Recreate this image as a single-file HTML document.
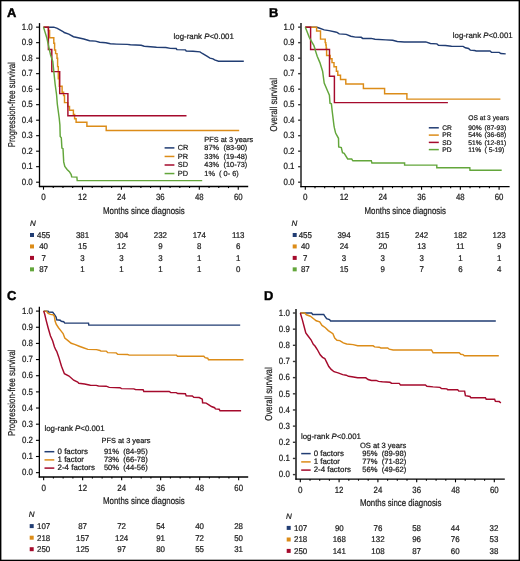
<!DOCTYPE html><html><head><meta charset="utf-8"><title>KM curves</title><style>html,body{margin:0;padding:0;background:#fff;}svg{display:block;}text{font-family:"Liberation Sans", sans-serif;fill:#1a1a1a;stroke:#1a1a1a;stroke-width:0.22px;}</style></head><body>
<svg width="520" height="561" viewBox="0 0 520 561" style="text-rendering:geometricPrecision;will-change:transform">
<rect x="0" y="0" width="520" height="561" fill="#fff"/>
<text x="6.9" y="16.5" font-size="12.9" font-weight="bold" fill="#000" style="fill:#000;stroke:#000;stroke-width:0.45px">A</text>
<text x="269.1" y="16.5" font-size="12.9" font-weight="bold" fill="#000" style="fill:#000;stroke:#000;stroke-width:0.45px">B</text>
<text x="6.9" y="300.3" font-size="12.9" font-weight="bold" fill="#000" style="fill:#000;stroke:#000;stroke-width:0.45px">C</text>
<text x="264.1" y="300.3" font-size="12.9" font-weight="bold" fill="#000" style="fill:#000;stroke:#000;stroke-width:0.45px">D</text>
<line x1="39.5" y1="23.1" x2="39.5" y2="187.1" stroke="#000" stroke-width="1.3"/>
<line x1="38.9" y1="186.5" x2="248.2" y2="186.5" stroke="#000" stroke-width="1.3"/>
<line x1="36.1" y1="182.20" x2="39.5" y2="182.20" stroke="#000" stroke-width="1.1"/>
<text x="32.75" y="184.95" font-size="9.0" text-anchor="end" textLength="11.0" lengthAdjust="spacingAndGlyphs">0.0</text>
<line x1="36.1" y1="166.69" x2="39.5" y2="166.69" stroke="#000" stroke-width="1.1"/>
<text x="32.75" y="169.44" font-size="9.0" text-anchor="end" textLength="11.0" lengthAdjust="spacingAndGlyphs">0.1</text>
<line x1="36.1" y1="151.19" x2="39.5" y2="151.19" stroke="#000" stroke-width="1.1"/>
<text x="32.75" y="153.94" font-size="9.0" text-anchor="end" textLength="11.0" lengthAdjust="spacingAndGlyphs">0.2</text>
<line x1="36.1" y1="135.69" x2="39.5" y2="135.69" stroke="#000" stroke-width="1.1"/>
<text x="32.75" y="138.44" font-size="9.0" text-anchor="end" textLength="11.0" lengthAdjust="spacingAndGlyphs">0.3</text>
<line x1="36.1" y1="120.18" x2="39.5" y2="120.18" stroke="#000" stroke-width="1.1"/>
<text x="32.75" y="122.93" font-size="9.0" text-anchor="end" textLength="11.0" lengthAdjust="spacingAndGlyphs">0.4</text>
<line x1="36.1" y1="104.67" x2="39.5" y2="104.67" stroke="#000" stroke-width="1.1"/>
<text x="32.75" y="107.42" font-size="9.0" text-anchor="end" textLength="11.0" lengthAdjust="spacingAndGlyphs">0.5</text>
<line x1="36.1" y1="89.17" x2="39.5" y2="89.17" stroke="#000" stroke-width="1.1"/>
<text x="32.75" y="91.92" font-size="9.0" text-anchor="end" textLength="11.0" lengthAdjust="spacingAndGlyphs">0.6</text>
<line x1="36.1" y1="73.66" x2="39.5" y2="73.66" stroke="#000" stroke-width="1.1"/>
<text x="32.75" y="76.41" font-size="9.0" text-anchor="end" textLength="11.0" lengthAdjust="spacingAndGlyphs">0.7</text>
<line x1="36.1" y1="58.16" x2="39.5" y2="58.16" stroke="#000" stroke-width="1.1"/>
<text x="32.75" y="60.91" font-size="9.0" text-anchor="end" textLength="11.0" lengthAdjust="spacingAndGlyphs">0.8</text>
<line x1="36.1" y1="42.66" x2="39.5" y2="42.66" stroke="#000" stroke-width="1.1"/>
<text x="32.75" y="45.41" font-size="9.0" text-anchor="end" textLength="11.0" lengthAdjust="spacingAndGlyphs">0.9</text>
<line x1="36.1" y1="27.15" x2="39.5" y2="27.15" stroke="#000" stroke-width="1.1"/>
<text x="32.75" y="29.90" font-size="9.0" text-anchor="end" textLength="11.0" lengthAdjust="spacingAndGlyphs">1.0</text>
<line x1="43.50" y1="186.5" x2="43.50" y2="189.7" stroke="#000" stroke-width="1.1"/>
<line x1="53.24" y1="186.5" x2="53.24" y2="188.1" stroke="#000" stroke-width="1.1"/>
<line x1="62.97" y1="186.5" x2="62.97" y2="188.1" stroke="#000" stroke-width="1.1"/>
<line x1="72.71" y1="186.5" x2="72.71" y2="188.1" stroke="#000" stroke-width="1.1"/>
<line x1="82.45" y1="186.5" x2="82.45" y2="189.7" stroke="#000" stroke-width="1.1"/>
<line x1="92.19" y1="186.5" x2="92.19" y2="188.1" stroke="#000" stroke-width="1.1"/>
<line x1="101.92" y1="186.5" x2="101.92" y2="188.1" stroke="#000" stroke-width="1.1"/>
<line x1="111.66" y1="186.5" x2="111.66" y2="188.1" stroke="#000" stroke-width="1.1"/>
<line x1="121.40" y1="186.5" x2="121.40" y2="189.7" stroke="#000" stroke-width="1.1"/>
<line x1="131.14" y1="186.5" x2="131.14" y2="188.1" stroke="#000" stroke-width="1.1"/>
<line x1="140.88" y1="186.5" x2="140.88" y2="188.1" stroke="#000" stroke-width="1.1"/>
<line x1="150.61" y1="186.5" x2="150.61" y2="188.1" stroke="#000" stroke-width="1.1"/>
<line x1="160.35" y1="186.5" x2="160.35" y2="189.7" stroke="#000" stroke-width="1.1"/>
<line x1="170.09" y1="186.5" x2="170.09" y2="188.1" stroke="#000" stroke-width="1.1"/>
<line x1="179.82" y1="186.5" x2="179.82" y2="188.1" stroke="#000" stroke-width="1.1"/>
<line x1="189.56" y1="186.5" x2="189.56" y2="188.1" stroke="#000" stroke-width="1.1"/>
<line x1="199.30" y1="186.5" x2="199.30" y2="189.7" stroke="#000" stroke-width="1.1"/>
<line x1="209.04" y1="186.5" x2="209.04" y2="188.1" stroke="#000" stroke-width="1.1"/>
<line x1="218.77" y1="186.5" x2="218.77" y2="188.1" stroke="#000" stroke-width="1.1"/>
<line x1="228.51" y1="186.5" x2="228.51" y2="188.1" stroke="#000" stroke-width="1.1"/>
<line x1="238.25" y1="186.5" x2="238.25" y2="189.7" stroke="#000" stroke-width="1.1"/>
<text x="43.50" y="199.9" font-size="9.0" text-anchor="middle" textLength="4.5" lengthAdjust="spacingAndGlyphs">0</text>
<text x="82.45" y="199.9" font-size="9.0" text-anchor="middle" textLength="8.7" lengthAdjust="spacingAndGlyphs">12</text>
<text x="121.40" y="199.9" font-size="9.0" text-anchor="middle" textLength="8.7" lengthAdjust="spacingAndGlyphs">24</text>
<text x="160.35" y="199.9" font-size="9.0" text-anchor="middle" textLength="8.7" lengthAdjust="spacingAndGlyphs">36</text>
<text x="199.30" y="199.9" font-size="9.0" text-anchor="middle" textLength="8.7" lengthAdjust="spacingAndGlyphs">48</text>
<text x="238.25" y="199.9" font-size="9.0" text-anchor="middle" textLength="8.7" lengthAdjust="spacingAndGlyphs">60</text>
<line x1="301.0" y1="23.1" x2="301.0" y2="187.2" stroke="#3a3a3a" stroke-width="1.7"/>
<line x1="300.4" y1="186.6" x2="509.6" y2="186.6" stroke="#000" stroke-width="1.3"/>
<line x1="298.1" y1="182.20" x2="301.0" y2="182.20" stroke="#3a3a3a" stroke-width="1.4"/>
<text x="294.5" y="184.95" font-size="9.0" text-anchor="end" textLength="11.0" lengthAdjust="spacingAndGlyphs">0.0</text>
<line x1="298.1" y1="166.69" x2="301.0" y2="166.69" stroke="#3a3a3a" stroke-width="1.4"/>
<text x="294.5" y="169.44" font-size="9.0" text-anchor="end" textLength="11.0" lengthAdjust="spacingAndGlyphs">0.1</text>
<line x1="298.1" y1="151.19" x2="301.0" y2="151.19" stroke="#3a3a3a" stroke-width="1.4"/>
<text x="294.5" y="153.94" font-size="9.0" text-anchor="end" textLength="11.0" lengthAdjust="spacingAndGlyphs">0.2</text>
<line x1="298.1" y1="135.69" x2="301.0" y2="135.69" stroke="#3a3a3a" stroke-width="1.4"/>
<text x="294.5" y="138.44" font-size="9.0" text-anchor="end" textLength="11.0" lengthAdjust="spacingAndGlyphs">0.3</text>
<line x1="298.1" y1="120.18" x2="301.0" y2="120.18" stroke="#3a3a3a" stroke-width="1.4"/>
<text x="294.5" y="122.93" font-size="9.0" text-anchor="end" textLength="11.0" lengthAdjust="spacingAndGlyphs">0.4</text>
<line x1="298.1" y1="104.67" x2="301.0" y2="104.67" stroke="#3a3a3a" stroke-width="1.4"/>
<text x="294.5" y="107.42" font-size="9.0" text-anchor="end" textLength="11.0" lengthAdjust="spacingAndGlyphs">0.5</text>
<line x1="298.1" y1="89.17" x2="301.0" y2="89.17" stroke="#3a3a3a" stroke-width="1.4"/>
<text x="294.5" y="91.92" font-size="9.0" text-anchor="end" textLength="11.0" lengthAdjust="spacingAndGlyphs">0.6</text>
<line x1="298.1" y1="73.66" x2="301.0" y2="73.66" stroke="#3a3a3a" stroke-width="1.4"/>
<text x="294.5" y="76.41" font-size="9.0" text-anchor="end" textLength="11.0" lengthAdjust="spacingAndGlyphs">0.7</text>
<line x1="298.1" y1="58.16" x2="301.0" y2="58.16" stroke="#3a3a3a" stroke-width="1.4"/>
<text x="294.5" y="60.91" font-size="9.0" text-anchor="end" textLength="11.0" lengthAdjust="spacingAndGlyphs">0.8</text>
<line x1="298.1" y1="42.66" x2="301.0" y2="42.66" stroke="#3a3a3a" stroke-width="1.4"/>
<text x="294.5" y="45.41" font-size="9.0" text-anchor="end" textLength="11.0" lengthAdjust="spacingAndGlyphs">0.9</text>
<line x1="298.1" y1="27.15" x2="301.0" y2="27.15" stroke="#3a3a3a" stroke-width="1.4"/>
<text x="294.5" y="29.90" font-size="9.0" text-anchor="end" textLength="11.0" lengthAdjust="spacingAndGlyphs">1.0</text>
<line x1="305.30" y1="186.6" x2="305.30" y2="189.79999999999998" stroke="#000" stroke-width="1.1"/>
<line x1="314.99" y1="186.6" x2="314.99" y2="188.2" stroke="#000" stroke-width="1.1"/>
<line x1="324.68" y1="186.6" x2="324.68" y2="188.2" stroke="#000" stroke-width="1.1"/>
<line x1="334.37" y1="186.6" x2="334.37" y2="188.2" stroke="#000" stroke-width="1.1"/>
<line x1="344.06" y1="186.6" x2="344.06" y2="189.79999999999998" stroke="#000" stroke-width="1.1"/>
<line x1="353.75" y1="186.6" x2="353.75" y2="188.2" stroke="#000" stroke-width="1.1"/>
<line x1="363.44" y1="186.6" x2="363.44" y2="188.2" stroke="#000" stroke-width="1.1"/>
<line x1="373.13" y1="186.6" x2="373.13" y2="188.2" stroke="#000" stroke-width="1.1"/>
<line x1="382.82" y1="186.6" x2="382.82" y2="189.79999999999998" stroke="#000" stroke-width="1.1"/>
<line x1="392.51" y1="186.6" x2="392.51" y2="188.2" stroke="#000" stroke-width="1.1"/>
<line x1="402.20" y1="186.6" x2="402.20" y2="188.2" stroke="#000" stroke-width="1.1"/>
<line x1="411.89" y1="186.6" x2="411.89" y2="188.2" stroke="#000" stroke-width="1.1"/>
<line x1="421.58" y1="186.6" x2="421.58" y2="189.79999999999998" stroke="#000" stroke-width="1.1"/>
<line x1="431.27" y1="186.6" x2="431.27" y2="188.2" stroke="#000" stroke-width="1.1"/>
<line x1="440.96" y1="186.6" x2="440.96" y2="188.2" stroke="#000" stroke-width="1.1"/>
<line x1="450.65" y1="186.6" x2="450.65" y2="188.2" stroke="#000" stroke-width="1.1"/>
<line x1="460.34" y1="186.6" x2="460.34" y2="189.79999999999998" stroke="#000" stroke-width="1.1"/>
<line x1="470.03" y1="186.6" x2="470.03" y2="188.2" stroke="#000" stroke-width="1.1"/>
<line x1="479.72" y1="186.6" x2="479.72" y2="188.2" stroke="#000" stroke-width="1.1"/>
<line x1="489.41" y1="186.6" x2="489.41" y2="188.2" stroke="#000" stroke-width="1.1"/>
<line x1="499.10" y1="186.6" x2="499.10" y2="189.79999999999998" stroke="#000" stroke-width="1.1"/>
<text x="305.30" y="199.8" font-size="9.0" text-anchor="middle" textLength="4.5" lengthAdjust="spacingAndGlyphs">0</text>
<text x="344.06" y="199.8" font-size="9.0" text-anchor="middle" textLength="8.7" lengthAdjust="spacingAndGlyphs">12</text>
<text x="382.82" y="199.8" font-size="9.0" text-anchor="middle" textLength="8.7" lengthAdjust="spacingAndGlyphs">24</text>
<text x="421.58" y="199.8" font-size="9.0" text-anchor="middle" textLength="8.7" lengthAdjust="spacingAndGlyphs">36</text>
<text x="460.34" y="199.8" font-size="9.0" text-anchor="middle" textLength="8.7" lengthAdjust="spacingAndGlyphs">48</text>
<text x="499.10" y="199.8" font-size="9.0" text-anchor="middle" textLength="8.7" lengthAdjust="spacingAndGlyphs">60</text>
<line x1="39.35" y1="306.7" x2="39.35" y2="477.6" stroke="#000" stroke-width="1.3"/>
<line x1="38.75" y1="477.0" x2="248.2" y2="477.0" stroke="#000" stroke-width="1.3"/>
<line x1="35.95" y1="472.65" x2="39.35" y2="472.65" stroke="#000" stroke-width="1.1"/>
<text x="33.0" y="475.40" font-size="9.0" text-anchor="end" textLength="11.0" lengthAdjust="spacingAndGlyphs">0.0</text>
<line x1="35.95" y1="456.50" x2="39.35" y2="456.50" stroke="#000" stroke-width="1.1"/>
<text x="33.0" y="459.25" font-size="9.0" text-anchor="end" textLength="11.0" lengthAdjust="spacingAndGlyphs">0.1</text>
<line x1="35.95" y1="440.34" x2="39.35" y2="440.34" stroke="#000" stroke-width="1.1"/>
<text x="33.0" y="443.09" font-size="9.0" text-anchor="end" textLength="11.0" lengthAdjust="spacingAndGlyphs">0.2</text>
<line x1="35.95" y1="424.19" x2="39.35" y2="424.19" stroke="#000" stroke-width="1.1"/>
<text x="33.0" y="426.94" font-size="9.0" text-anchor="end" textLength="11.0" lengthAdjust="spacingAndGlyphs">0.3</text>
<line x1="35.95" y1="408.03" x2="39.35" y2="408.03" stroke="#000" stroke-width="1.1"/>
<text x="33.0" y="410.78" font-size="9.0" text-anchor="end" textLength="11.0" lengthAdjust="spacingAndGlyphs">0.4</text>
<line x1="35.95" y1="391.88" x2="39.35" y2="391.88" stroke="#000" stroke-width="1.1"/>
<text x="33.0" y="394.62" font-size="9.0" text-anchor="end" textLength="11.0" lengthAdjust="spacingAndGlyphs">0.5</text>
<line x1="35.95" y1="375.72" x2="39.35" y2="375.72" stroke="#000" stroke-width="1.1"/>
<text x="33.0" y="378.47" font-size="9.0" text-anchor="end" textLength="11.0" lengthAdjust="spacingAndGlyphs">0.6</text>
<line x1="35.95" y1="359.56" x2="39.35" y2="359.56" stroke="#000" stroke-width="1.1"/>
<text x="33.0" y="362.31" font-size="9.0" text-anchor="end" textLength="11.0" lengthAdjust="spacingAndGlyphs">0.7</text>
<line x1="35.95" y1="343.41" x2="39.35" y2="343.41" stroke="#000" stroke-width="1.1"/>
<text x="33.0" y="346.16" font-size="9.0" text-anchor="end" textLength="11.0" lengthAdjust="spacingAndGlyphs">0.8</text>
<line x1="35.95" y1="327.25" x2="39.35" y2="327.25" stroke="#000" stroke-width="1.1"/>
<text x="33.0" y="330.00" font-size="9.0" text-anchor="end" textLength="11.0" lengthAdjust="spacingAndGlyphs">0.9</text>
<line x1="35.95" y1="311.10" x2="39.35" y2="311.10" stroke="#000" stroke-width="1.1"/>
<text x="33.0" y="313.85" font-size="9.0" text-anchor="end" textLength="11.0" lengthAdjust="spacingAndGlyphs">1.0</text>
<line x1="43.65" y1="477.0" x2="43.65" y2="480.2" stroke="#000" stroke-width="1.1"/>
<line x1="53.40" y1="477.0" x2="53.40" y2="478.6" stroke="#000" stroke-width="1.1"/>
<line x1="63.15" y1="477.0" x2="63.15" y2="478.6" stroke="#000" stroke-width="1.1"/>
<line x1="72.90" y1="477.0" x2="72.90" y2="478.6" stroke="#000" stroke-width="1.1"/>
<line x1="82.65" y1="477.0" x2="82.65" y2="480.2" stroke="#000" stroke-width="1.1"/>
<line x1="92.40" y1="477.0" x2="92.40" y2="478.6" stroke="#000" stroke-width="1.1"/>
<line x1="102.15" y1="477.0" x2="102.15" y2="478.6" stroke="#000" stroke-width="1.1"/>
<line x1="111.90" y1="477.0" x2="111.90" y2="478.6" stroke="#000" stroke-width="1.1"/>
<line x1="121.65" y1="477.0" x2="121.65" y2="480.2" stroke="#000" stroke-width="1.1"/>
<line x1="131.40" y1="477.0" x2="131.40" y2="478.6" stroke="#000" stroke-width="1.1"/>
<line x1="141.15" y1="477.0" x2="141.15" y2="478.6" stroke="#000" stroke-width="1.1"/>
<line x1="150.90" y1="477.0" x2="150.90" y2="478.6" stroke="#000" stroke-width="1.1"/>
<line x1="160.65" y1="477.0" x2="160.65" y2="480.2" stroke="#000" stroke-width="1.1"/>
<line x1="170.40" y1="477.0" x2="170.40" y2="478.6" stroke="#000" stroke-width="1.1"/>
<line x1="180.15" y1="477.0" x2="180.15" y2="478.6" stroke="#000" stroke-width="1.1"/>
<line x1="189.90" y1="477.0" x2="189.90" y2="478.6" stroke="#000" stroke-width="1.1"/>
<line x1="199.65" y1="477.0" x2="199.65" y2="480.2" stroke="#000" stroke-width="1.1"/>
<line x1="209.40" y1="477.0" x2="209.40" y2="478.6" stroke="#000" stroke-width="1.1"/>
<line x1="219.15" y1="477.0" x2="219.15" y2="478.6" stroke="#000" stroke-width="1.1"/>
<line x1="228.90" y1="477.0" x2="228.90" y2="478.6" stroke="#000" stroke-width="1.1"/>
<line x1="238.65" y1="477.0" x2="238.65" y2="480.2" stroke="#000" stroke-width="1.1"/>
<text x="43.65" y="490.7" font-size="9.0" text-anchor="middle" textLength="4.5" lengthAdjust="spacingAndGlyphs">0</text>
<text x="82.65" y="490.7" font-size="9.0" text-anchor="middle" textLength="8.7" lengthAdjust="spacingAndGlyphs">12</text>
<text x="121.65" y="490.7" font-size="9.0" text-anchor="middle" textLength="8.7" lengthAdjust="spacingAndGlyphs">24</text>
<text x="160.65" y="490.7" font-size="9.0" text-anchor="middle" textLength="8.7" lengthAdjust="spacingAndGlyphs">36</text>
<text x="199.65" y="490.7" font-size="9.0" text-anchor="middle" textLength="8.7" lengthAdjust="spacingAndGlyphs">48</text>
<text x="238.65" y="490.7" font-size="9.0" text-anchor="middle" textLength="8.7" lengthAdjust="spacingAndGlyphs">60</text>
<line x1="296.0" y1="309.0" x2="296.0" y2="479.70000000000005" stroke="#3a3a3a" stroke-width="1.8"/>
<line x1="295.4" y1="479.1" x2="504.8" y2="479.1" stroke="#000" stroke-width="1.3"/>
<line x1="292.9" y1="474.60" x2="296.0" y2="474.60" stroke="#3a3a3a" stroke-width="1.4"/>
<text x="289.8" y="477.35" font-size="9.0" text-anchor="end" textLength="11.0" lengthAdjust="spacingAndGlyphs">0.0</text>
<line x1="292.9" y1="458.44" x2="296.0" y2="458.44" stroke="#3a3a3a" stroke-width="1.4"/>
<text x="289.8" y="461.19" font-size="9.0" text-anchor="end" textLength="11.0" lengthAdjust="spacingAndGlyphs">0.1</text>
<line x1="292.9" y1="442.28" x2="296.0" y2="442.28" stroke="#3a3a3a" stroke-width="1.4"/>
<text x="289.8" y="445.03" font-size="9.0" text-anchor="end" textLength="11.0" lengthAdjust="spacingAndGlyphs">0.2</text>
<line x1="292.9" y1="426.12" x2="296.0" y2="426.12" stroke="#3a3a3a" stroke-width="1.4"/>
<text x="289.8" y="428.87" font-size="9.0" text-anchor="end" textLength="11.0" lengthAdjust="spacingAndGlyphs">0.3</text>
<line x1="292.9" y1="409.96" x2="296.0" y2="409.96" stroke="#3a3a3a" stroke-width="1.4"/>
<text x="289.8" y="412.71" font-size="9.0" text-anchor="end" textLength="11.0" lengthAdjust="spacingAndGlyphs">0.4</text>
<line x1="292.9" y1="393.80" x2="296.0" y2="393.80" stroke="#3a3a3a" stroke-width="1.4"/>
<text x="289.8" y="396.55" font-size="9.0" text-anchor="end" textLength="11.0" lengthAdjust="spacingAndGlyphs">0.5</text>
<line x1="292.9" y1="377.64" x2="296.0" y2="377.64" stroke="#3a3a3a" stroke-width="1.4"/>
<text x="289.8" y="380.39" font-size="9.0" text-anchor="end" textLength="11.0" lengthAdjust="spacingAndGlyphs">0.6</text>
<line x1="292.9" y1="361.48" x2="296.0" y2="361.48" stroke="#3a3a3a" stroke-width="1.4"/>
<text x="289.8" y="364.23" font-size="9.0" text-anchor="end" textLength="11.0" lengthAdjust="spacingAndGlyphs">0.7</text>
<line x1="292.9" y1="345.32" x2="296.0" y2="345.32" stroke="#3a3a3a" stroke-width="1.4"/>
<text x="289.8" y="348.07" font-size="9.0" text-anchor="end" textLength="11.0" lengthAdjust="spacingAndGlyphs">0.8</text>
<line x1="292.9" y1="329.16" x2="296.0" y2="329.16" stroke="#3a3a3a" stroke-width="1.4"/>
<text x="289.8" y="331.91" font-size="9.0" text-anchor="end" textLength="11.0" lengthAdjust="spacingAndGlyphs">0.9</text>
<line x1="292.9" y1="313.00" x2="296.0" y2="313.00" stroke="#3a3a3a" stroke-width="1.4"/>
<text x="289.8" y="315.75" font-size="9.0" text-anchor="end" textLength="11.0" lengthAdjust="spacingAndGlyphs">1.0</text>
<line x1="300.30" y1="479.1" x2="300.30" y2="482.3" stroke="#000" stroke-width="1.1"/>
<line x1="310.00" y1="479.1" x2="310.00" y2="480.70000000000005" stroke="#000" stroke-width="1.1"/>
<line x1="319.70" y1="479.1" x2="319.70" y2="480.70000000000005" stroke="#000" stroke-width="1.1"/>
<line x1="329.40" y1="479.1" x2="329.40" y2="480.70000000000005" stroke="#000" stroke-width="1.1"/>
<line x1="339.10" y1="479.1" x2="339.10" y2="482.3" stroke="#000" stroke-width="1.1"/>
<line x1="348.80" y1="479.1" x2="348.80" y2="480.70000000000005" stroke="#000" stroke-width="1.1"/>
<line x1="358.50" y1="479.1" x2="358.50" y2="480.70000000000005" stroke="#000" stroke-width="1.1"/>
<line x1="368.20" y1="479.1" x2="368.20" y2="480.70000000000005" stroke="#000" stroke-width="1.1"/>
<line x1="377.90" y1="479.1" x2="377.90" y2="482.3" stroke="#000" stroke-width="1.1"/>
<line x1="387.60" y1="479.1" x2="387.60" y2="480.70000000000005" stroke="#000" stroke-width="1.1"/>
<line x1="397.30" y1="479.1" x2="397.30" y2="480.70000000000005" stroke="#000" stroke-width="1.1"/>
<line x1="407.00" y1="479.1" x2="407.00" y2="480.70000000000005" stroke="#000" stroke-width="1.1"/>
<line x1="416.70" y1="479.1" x2="416.70" y2="482.3" stroke="#000" stroke-width="1.1"/>
<line x1="426.40" y1="479.1" x2="426.40" y2="480.70000000000005" stroke="#000" stroke-width="1.1"/>
<line x1="436.10" y1="479.1" x2="436.10" y2="480.70000000000005" stroke="#000" stroke-width="1.1"/>
<line x1="445.80" y1="479.1" x2="445.80" y2="480.70000000000005" stroke="#000" stroke-width="1.1"/>
<line x1="455.50" y1="479.1" x2="455.50" y2="482.3" stroke="#000" stroke-width="1.1"/>
<line x1="465.20" y1="479.1" x2="465.20" y2="480.70000000000005" stroke="#000" stroke-width="1.1"/>
<line x1="474.90" y1="479.1" x2="474.90" y2="480.70000000000005" stroke="#000" stroke-width="1.1"/>
<line x1="484.60" y1="479.1" x2="484.60" y2="480.70000000000005" stroke="#000" stroke-width="1.1"/>
<line x1="494.30" y1="479.1" x2="494.30" y2="482.3" stroke="#000" stroke-width="1.1"/>
<text x="300.30" y="492.6" font-size="9.0" text-anchor="middle" textLength="4.5" lengthAdjust="spacingAndGlyphs">0</text>
<text x="339.10" y="492.6" font-size="9.0" text-anchor="middle" textLength="8.7" lengthAdjust="spacingAndGlyphs">12</text>
<text x="377.90" y="492.6" font-size="9.0" text-anchor="middle" textLength="8.7" lengthAdjust="spacingAndGlyphs">24</text>
<text x="416.70" y="492.6" font-size="9.0" text-anchor="middle" textLength="8.7" lengthAdjust="spacingAndGlyphs">36</text>
<text x="455.50" y="492.6" font-size="9.0" text-anchor="middle" textLength="8.7" lengthAdjust="spacingAndGlyphs">48</text>
<text x="494.30" y="492.6" font-size="9.0" text-anchor="middle" textLength="8.7" lengthAdjust="spacingAndGlyphs">60</text>
<text transform="translate(14.9,147.2) rotate(-90)" x="0" y="0" font-size="10" textLength="84.9" lengthAdjust="spacingAndGlyphs">Progression-free survival</text>
<text transform="translate(276.9,131.4) rotate(-90)" x="0" y="0" font-size="10" textLength="53.3" lengthAdjust="spacingAndGlyphs">Overall survival</text>
<text transform="translate(15.2,436.0) rotate(-90)" x="0" y="0" font-size="10" textLength="86.6" lengthAdjust="spacingAndGlyphs">Progression-free survival</text>
<text transform="translate(272.2,420.7) rotate(-90)" x="0" y="0" font-size="10" textLength="53.4" lengthAdjust="spacingAndGlyphs">Overall survival</text>
<text x="103.0" y="213.7" font-size="9.7" textLength="81.7" lengthAdjust="spacingAndGlyphs">Months since diagnosis</text>
<text x="364.5" y="213.8" font-size="9.7" textLength="81.4" lengthAdjust="spacingAndGlyphs">Months since diagnosis</text>
<text x="103.0" y="504.4" font-size="9.7" textLength="81.7" lengthAdjust="spacingAndGlyphs">Months since diagnosis</text>
<text x="359.9" y="506.4" font-size="9.7" textLength="81.6" lengthAdjust="spacingAndGlyphs">Months since diagnosis</text>
<text x="173.6" y="38.5" font-size="7.9" textLength="60.2" lengthAdjust="spacingAndGlyphs">log-rank <tspan font-style="italic">P</tspan>&lt;0.001</text>
<text x="452.8" y="38.2" font-size="7.9" textLength="59.8" lengthAdjust="spacingAndGlyphs">log-rank <tspan font-style="italic">P</tspan>&lt;0.001</text>
<text x="44.4" y="430.6" font-size="7.9" textLength="60.2" lengthAdjust="spacingAndGlyphs">log-rank <tspan font-style="italic">P</tspan>&lt;0.001</text>
<text x="301.0" y="439.0" font-size="7.9" textLength="59.9" lengthAdjust="spacingAndGlyphs">log-rank <tspan font-style="italic">P</tspan>&lt;0.001</text>
<polyline points="43.50,27.15 53.80,27.15 57.30,28.30 63.00,31.50 64.20,32.50 68.80,34.10 73.50,36.70 77.00,37.50 83.80,39.00 89.60,40.80 95.40,41.10 99.60,42.20 105.80,42.70 110.40,43.80 116.50,44.10 127.30,44.40 130.40,44.80 141.20,45.20 144.20,46.20 150.40,46.70 156.50,47.30 165.80,47.50 170.40,48.40 176.20,48.50 176.90,49.60 185.40,49.90 186.20,51.00 193.00,51.30 200.00,51.90 202.30,53.50 206.90,56.20 210.00,58.10 213.00,58.80 214.60,59.90 218.50,61.20 243.80,61.20" fill="none" stroke="#213d73" stroke-width="1.45" stroke-linejoin="miter" stroke-miterlimit="2"/>
<polyline points="43.50,27.15 48.40,27.15 48.40,30.50 49.60,30.50 49.60,37.80 53.80,37.80 53.80,43.30 54.60,43.30 54.60,50.00 55.60,50.00 55.60,53.60 57.00,53.60 57.00,58.20 57.60,58.20 57.60,66.60 58.30,66.60 58.30,78.70 59.30,78.70 59.30,86.30 62.10,86.30 62.10,92.30 63.60,92.30 63.60,95.50 64.50,95.50 64.50,102.60 67.70,102.60 67.70,106.50 69.50,106.50 69.50,110.30 73.40,110.30 73.40,114.50 74.60,114.50 74.60,118.70 76.10,118.70 76.10,122.30 86.90,122.30 86.90,126.20 106.20,126.20 106.20,130.40 239.20,130.40" fill="none" stroke="#dc8c18" stroke-width="1.45" stroke-linejoin="miter" stroke-miterlimit="2"/>
<polyline points="43.50,27.15 48.40,27.15 48.40,49.40 51.80,49.40 51.80,71.60 59.70,71.60 59.70,93.60 67.90,93.60 67.90,115.80 186.50,115.80" fill="none" stroke="#a50a2c" stroke-width="1.45" stroke-linejoin="miter" stroke-miterlimit="2"/>
<polyline points="43.50,27.15 47.00,38.50 49.20,48.80 50.60,55.00 52.80,61.40 54.10,74.30 55.10,84.00 56.60,95.00 57.30,104.00 59.20,118.00 59.90,125.00 60.20,136.50 61.30,137.70 61.90,148.00 63.00,148.70 63.70,161.90 64.80,166.50 67.10,169.40 69.40,171.70 71.20,174.60 71.70,176.90 76.90,177.10 77.20,180.60 202.20,180.60" fill="none" stroke="#63a63b" stroke-width="1.45" stroke-linejoin="miter" stroke-miterlimit="2"/>
<polyline points="305.30,27.15 316.70,27.20 318.30,27.80 324.20,29.90 329.00,30.60 335.40,32.00 337.00,32.40 339.20,33.90 346.20,34.40 350.80,36.20 355.40,37.10 361.20,37.30 362.70,38.40 371.20,38.40 375.00,39.30 385.80,39.90 392.70,40.20 397.30,41.50 404.20,41.90 425.80,41.90 430.40,43.50 436.90,43.90 438.50,45.20 445.40,45.50 451.50,46.20 463.10,46.40 465.40,47.80 468.50,48.50 470.30,50.10 474.60,50.50 476.20,51.00 490.00,51.00 491.50,52.20 499.20,52.40 500.80,53.50 505.70,53.90" fill="none" stroke="#213d73" stroke-width="1.45" stroke-linejoin="miter" stroke-miterlimit="2"/>
<polyline points="305.30,27.15 316.60,27.15 316.60,30.90 320.50,30.90 320.50,39.10 325.20,39.10 325.20,42.60 325.80,42.60 325.80,45.00 326.20,45.00 326.20,48.30 326.60,48.30 326.60,55.40 330.10,55.40 330.10,58.80 332.00,58.80 332.00,62.60 334.00,62.60 334.00,66.80 336.40,66.80 336.40,71.30 337.80,71.30 337.80,75.30 340.50,75.30 340.50,79.40 345.80,79.40 345.80,83.90 363.40,83.90 363.40,88.50 384.60,88.50 384.60,93.80 406.90,93.80 406.90,99.10 500.40,99.10" fill="none" stroke="#dc8c18" stroke-width="1.45" stroke-linejoin="miter" stroke-miterlimit="2"/>
<polyline points="305.30,27.15 310.60,27.15 310.60,49.40 329.50,49.40 329.50,76.20 334.40,76.20 334.40,102.60 447.90,102.60" fill="none" stroke="#a50a2c" stroke-width="1.45" stroke-linejoin="miter" stroke-miterlimit="2"/>
<polyline points="305.30,27.15 307.50,32.70 309.20,37.30 311.50,41.30 313.80,45.40 315.00,48.80 315.10,49.70 317.20,56.20 319.90,62.60 322.60,71.20 324.20,83.00 327.70,91.20 329.40,95.20 330.00,103.30 331.40,103.80 332.30,112.00 334.00,125.80 334.40,127.90 335.60,133.10 338.50,138.30 338.70,146.90 341.30,147.50 342.50,152.70 344.20,153.30 347.70,159.00 351.70,159.00 352.90,160.80 371.30,160.80 371.90,162.90 404.60,162.90 404.60,165.10 436.80,165.10 436.80,167.80 469.80,167.80 470.00,170.20 501.70,170.20" fill="none" stroke="#63a63b" stroke-width="1.45" stroke-linejoin="miter" stroke-miterlimit="2"/>
<polyline points="43.65,311.10 48.10,311.10 48.70,312.10 52.70,312.30 54.40,314.40 56.20,317.30 56.70,319.80 60.20,320.20 61.30,321.30 63.70,321.70 64.80,323.10 88.50,323.10 88.80,325.10 240.20,325.10" fill="none" stroke="#213d73" stroke-width="1.45" stroke-linejoin="miter" stroke-miterlimit="2"/>
<polyline points="43.65,311.10 46.30,311.10 48.10,313.30 50.40,314.40 53.30,314.80 54.40,316.20 55.00,320.80 56.20,324.20 58.50,327.70 60.80,330.60 63.10,333.50 64.80,338.10 67.70,340.40 71.20,343.30 74.60,344.40 79.20,346.20 82.70,347.50 87.90,349.40 96.50,349.60 100.00,350.50 100.80,351.10 106.20,351.10 107.70,352.60 116.20,352.90 117.70,354.20 127.70,354.50 129.20,355.10 176.50,355.10 177.40,356.20 203.80,356.20 205.10,357.70 207.70,358.20 208.50,359.70 243.50,359.70" fill="none" stroke="#dc8c18" stroke-width="1.45" stroke-linejoin="miter" stroke-miterlimit="2"/>
<polyline points="43.65,311.10 44.60,313.80 46.30,320.80 48.10,327.70 50.40,335.80 52.70,341.00 54.40,346.70 55.80,350.00 56.70,351.30 58.70,356.90 61.50,366.20 64.40,373.70 69.00,376.00 73.70,380.20 77.70,382.10 78.80,383.20 84.60,384.00 90.40,385.20 96.20,385.40 98.50,386.00 106.20,386.20 109.20,387.40 120.00,387.70 121.50,388.60 133.80,388.90 135.40,389.50 143.10,389.80 143.80,391.40 169.20,391.40 170.80,392.60 176.20,392.60 177.70,393.50 185.40,393.80 186.20,395.70 192.30,396.00 193.80,397.20 199.20,397.50 202.30,399.20 202.60,402.80 206.20,403.10 208.50,404.60 211.50,406.50 214.60,407.70 215.40,408.90 219.20,409.20 220.00,410.80 241.10,410.80" fill="none" stroke="#a50a2c" stroke-width="1.45" stroke-linejoin="miter" stroke-miterlimit="2"/>
<polyline points="300.30,313.00 311.60,313.00 312.70,314.40 323.70,314.40 324.80,316.20 326.60,318.70 329.50,319.60 330.60,321.00 495.80,321.00" fill="none" stroke="#213d73" stroke-width="1.45" stroke-linejoin="miter" stroke-miterlimit="2"/>
<polyline points="300.30,313.00 304.70,313.00 306.40,314.80 310.40,316.20 313.30,318.50 316.20,320.80 319.70,321.90 322.00,325.40 325.40,327.70 328.30,330.60 332.90,333.70 334.70,338.10 337.00,340.20 339.80,340.60 343.30,342.90 346.70,344.00 353.10,344.60 357.70,345.80 373.10,345.80 374.60,346.90 379.20,347.20 380.80,348.00 387.70,348.00 389.20,349.10 393.10,350.00 431.50,350.00 433.10,352.80 459.20,352.80 460.80,354.20 463.10,354.60 464.30,355.80 498.80,355.80" fill="none" stroke="#dc8c18" stroke-width="1.45" stroke-linejoin="miter" stroke-miterlimit="2"/>
<polyline points="300.30,313.00 302.30,319.60 304.10,326.50 305.80,332.90 307.50,335.20 311.00,339.80 313.30,344.40 315.00,346.00 317.30,349.50 320.20,354.80 322.50,357.30 324.80,358.50 326.50,361.90 328.80,366.50 331.20,369.40 334.00,371.70 338.10,372.90 342.70,374.60 346.20,375.20 348.50,376.30 351.90,376.70 354.80,377.20 357.70,377.80 365.80,377.80 368.10,379.50 371.50,380.40 376.20,380.40 378.50,381.40 382.30,381.80 390.00,382.30 391.50,383.20 399.20,383.40 400.50,384.90 425.40,384.90 426.90,386.20 433.10,386.90 440.00,387.40 441.50,388.50 446.90,388.90 447.70,389.70 457.70,389.70 458.80,391.10 464.60,391.10 465.40,395.70 470.00,396.50 470.80,397.70 485.40,397.70 486.20,399.20 494.60,399.20 495.40,401.20 499.20,401.50 500.80,403.10" fill="none" stroke="#a50a2c" stroke-width="1.45" stroke-linejoin="miter" stroke-miterlimit="2"/>
<text x="204.3" y="141.6" font-size="7.35" textLength="48.8" lengthAdjust="spacingAndGlyphs">PFS at 3 years</text>
<line x1="164.6" y1="147.89999999999998" x2="174.4" y2="147.89999999999998" stroke="#213d73" stroke-width="1.5"/>
<text x="177.8" y="150.2" font-size="7.35">CR</text>
<text x="204.3" y="150.2" font-size="7.35">87%</text>
<text x="223.6" y="150.2" font-size="7.35">(83-90)</text>
<line x1="164.6" y1="156.45" x2="174.4" y2="156.45" stroke="#dc8c18" stroke-width="1.5"/>
<text x="177.8" y="158.75" font-size="7.35">PR</text>
<text x="204.3" y="158.75" font-size="7.35">33%</text>
<text x="223.6" y="158.75" font-size="7.35">(19-48)</text>
<line x1="164.6" y1="165.0" x2="174.4" y2="165.0" stroke="#a50a2c" stroke-width="1.5"/>
<text x="177.8" y="167.3" font-size="7.35">SD</text>
<text x="204.3" y="167.3" font-size="7.35">43%</text>
<text x="223.6" y="167.3" font-size="7.35">(10-73)</text>
<line x1="164.6" y1="173.54999999999998" x2="174.4" y2="173.54999999999998" stroke="#63a63b" stroke-width="1.5"/>
<text x="177.8" y="175.85" font-size="7.35">PD</text>
<text x="204.3" y="175.85" font-size="7.35">1%</text>
<text x="219.1" y="175.85" font-size="7.35">( 0- 6)</text>
<text x="468.2" y="120.0" font-size="6.7" textLength="40.8" lengthAdjust="spacingAndGlyphs">OS at 3 years</text>
<line x1="428.8" y1="127.8" x2="438.8" y2="127.8" stroke="#213d73" stroke-width="1.5"/>
<text x="442.2" y="130.0" font-size="6.7">CR</text>
<text x="468.2" y="130.0" font-size="6.7">90%</text>
<text x="484.6" y="130.0" font-size="6.7">(87-93)</text>
<line x1="428.8" y1="135.10000000000002" x2="438.8" y2="135.10000000000002" stroke="#dc8c18" stroke-width="1.5"/>
<text x="442.2" y="137.3" font-size="6.7">PR</text>
<text x="468.2" y="137.3" font-size="6.7">54%</text>
<text x="484.6" y="137.3" font-size="6.7">(36-68)</text>
<line x1="428.8" y1="142.4" x2="438.8" y2="142.4" stroke="#a50a2c" stroke-width="1.5"/>
<text x="442.2" y="144.6" font-size="6.7">SD</text>
<text x="468.2" y="144.6" font-size="6.7">51%</text>
<text x="484.6" y="144.6" font-size="6.7">(12-81)</text>
<line x1="428.8" y1="149.60000000000002" x2="438.8" y2="149.60000000000002" stroke="#63a63b" stroke-width="1.5"/>
<text x="442.2" y="151.8" font-size="6.7">PD</text>
<text x="468.2" y="151.8" font-size="6.7">11%</text>
<text x="484.6" y="151.8" font-size="6.7">( 5-19)</text>
<text x="101.6" y="442.6" font-size="7.35" textLength="48.8" lengthAdjust="spacingAndGlyphs">PFS at 3 years</text>
<line x1="44.5" y1="451.7" x2="54.3" y2="451.7" stroke="#213d73" stroke-width="1.5"/>
<text x="57.6" y="453.8" font-size="7.9">0 factors</text>
<text x="103.9" y="453.8" font-size="7.6">91%</text>
<text x="123.2" y="453.8" font-size="7.6">(84-95)</text>
<line x1="44.5" y1="459.9" x2="54.3" y2="459.9" stroke="#dc8c18" stroke-width="1.5"/>
<text x="57.6" y="462.0" font-size="7.9">1 factor</text>
<text x="103.9" y="462.0" font-size="7.6">73%</text>
<text x="123.2" y="462.0" font-size="7.6">(66-78)</text>
<line x1="44.5" y1="468.09999999999997" x2="54.3" y2="468.09999999999997" stroke="#a50a2c" stroke-width="1.5"/>
<text x="57.6" y="470.2" font-size="7.9">2-4 factors</text>
<text x="103.9" y="470.2" font-size="7.6">50%</text>
<text x="123.2" y="470.2" font-size="7.6">(44-56)</text>
<text x="359.9" y="447.5" font-size="7.6" textLength="46.5" lengthAdjust="spacingAndGlyphs">OS at 3 years</text>
<line x1="301.2" y1="453.59999999999997" x2="310.7" y2="453.59999999999997" stroke="#213d73" stroke-width="1.5"/>
<text x="313.7" y="455.9" font-size="7.9">0 factors</text>
<text x="362.3" y="455.9" font-size="7.6">95%</text>
<text x="381.8" y="455.9" font-size="7.6">(89-98)</text>
<line x1="301.2" y1="461.9" x2="310.7" y2="461.9" stroke="#dc8c18" stroke-width="1.5"/>
<text x="313.7" y="464.2" font-size="7.9">1 factor</text>
<text x="362.3" y="464.2" font-size="7.6">77%</text>
<text x="381.8" y="464.2" font-size="7.6">(71-82)</text>
<line x1="301.2" y1="470.09999999999997" x2="310.7" y2="470.09999999999997" stroke="#a50a2c" stroke-width="1.5"/>
<text x="313.7" y="472.4" font-size="7.9">2-4 factors</text>
<text x="362.3" y="472.4" font-size="7.6">56%</text>
<text x="381.8" y="472.4" font-size="7.6">(49-62)</text>
<text x="30.0" y="226.0" font-size="8" font-style="italic">N</text>
<rect x="30.0" y="233.00" width="4" height="4" fill="#213d73"/>
<text x="43.60" y="237.90" font-size="8.3" text-anchor="middle" textLength="13.22" lengthAdjust="spacingAndGlyphs">455</text>
<text x="82.52" y="237.90" font-size="8.3" text-anchor="middle" textLength="13.22" lengthAdjust="spacingAndGlyphs">381</text>
<text x="121.44" y="237.90" font-size="8.3" text-anchor="middle" textLength="13.22" lengthAdjust="spacingAndGlyphs">304</text>
<text x="160.36" y="237.90" font-size="8.3" text-anchor="middle" textLength="13.22" lengthAdjust="spacingAndGlyphs">232</text>
<text x="199.28" y="237.90" font-size="8.3" text-anchor="middle" textLength="13.22" lengthAdjust="spacingAndGlyphs">174</text>
<text x="238.20" y="237.90" font-size="8.3" text-anchor="middle" textLength="12.64" lengthAdjust="spacingAndGlyphs">113</text>
<rect x="30.0" y="244.45" width="4" height="4" fill="#dc8c18"/>
<text x="43.60" y="249.35" font-size="8.3" text-anchor="middle" textLength="8.82" lengthAdjust="spacingAndGlyphs">40</text>
<text x="82.52" y="249.35" font-size="8.3" text-anchor="middle" textLength="8.82" lengthAdjust="spacingAndGlyphs">15</text>
<text x="121.44" y="249.35" font-size="8.3" text-anchor="middle" textLength="8.82" lengthAdjust="spacingAndGlyphs">12</text>
<text x="160.36" y="249.35" font-size="8.3" text-anchor="middle" textLength="4.41" lengthAdjust="spacingAndGlyphs">9</text>
<text x="199.28" y="249.35" font-size="8.3" text-anchor="middle" textLength="4.41" lengthAdjust="spacingAndGlyphs">8</text>
<text x="238.20" y="249.35" font-size="8.3" text-anchor="middle" textLength="4.41" lengthAdjust="spacingAndGlyphs">6</text>
<rect x="30.0" y="255.90" width="4" height="4" fill="#a50a2c"/>
<text x="43.60" y="260.80" font-size="8.3" text-anchor="middle" textLength="4.41" lengthAdjust="spacingAndGlyphs">7</text>
<text x="82.52" y="260.80" font-size="8.3" text-anchor="middle" textLength="4.41" lengthAdjust="spacingAndGlyphs">3</text>
<text x="121.44" y="260.80" font-size="8.3" text-anchor="middle" textLength="4.41" lengthAdjust="spacingAndGlyphs">3</text>
<text x="160.36" y="260.80" font-size="8.3" text-anchor="middle" textLength="4.41" lengthAdjust="spacingAndGlyphs">3</text>
<text x="199.28" y="260.80" font-size="8.3" text-anchor="middle" textLength="4.41" lengthAdjust="spacingAndGlyphs">1</text>
<text x="238.20" y="260.80" font-size="8.3" text-anchor="middle" textLength="4.41" lengthAdjust="spacingAndGlyphs">1</text>
<rect x="30.0" y="267.35" width="4" height="4" fill="#63a63b"/>
<text x="43.60" y="272.25" font-size="8.3" text-anchor="middle" textLength="8.82" lengthAdjust="spacingAndGlyphs">87</text>
<text x="82.52" y="272.25" font-size="8.3" text-anchor="middle" textLength="4.41" lengthAdjust="spacingAndGlyphs">1</text>
<text x="121.44" y="272.25" font-size="8.3" text-anchor="middle" textLength="4.41" lengthAdjust="spacingAndGlyphs">1</text>
<text x="160.36" y="272.25" font-size="8.3" text-anchor="middle" textLength="4.41" lengthAdjust="spacingAndGlyphs">1</text>
<text x="199.28" y="272.25" font-size="8.3" text-anchor="middle" textLength="4.41" lengthAdjust="spacingAndGlyphs">1</text>
<text x="238.20" y="272.25" font-size="8.3" text-anchor="middle" textLength="4.41" lengthAdjust="spacingAndGlyphs">0</text>
<text x="291.6" y="226.0" font-size="8" font-style="italic">N</text>
<rect x="292.7" y="233.00" width="4" height="4" fill="#213d73"/>
<text x="305.30" y="237.90" font-size="8.3" text-anchor="middle" textLength="13.22" lengthAdjust="spacingAndGlyphs">455</text>
<text x="344.06" y="237.90" font-size="8.3" text-anchor="middle" textLength="13.22" lengthAdjust="spacingAndGlyphs">394</text>
<text x="382.82" y="237.90" font-size="8.3" text-anchor="middle" textLength="13.22" lengthAdjust="spacingAndGlyphs">315</text>
<text x="421.58" y="237.90" font-size="8.3" text-anchor="middle" textLength="13.22" lengthAdjust="spacingAndGlyphs">242</text>
<text x="460.34" y="237.90" font-size="8.3" text-anchor="middle" textLength="13.22" lengthAdjust="spacingAndGlyphs">182</text>
<text x="499.10" y="237.90" font-size="8.3" text-anchor="middle" textLength="13.22" lengthAdjust="spacingAndGlyphs">123</text>
<rect x="292.7" y="244.45" width="4" height="4" fill="#dc8c18"/>
<text x="305.30" y="249.35" font-size="8.3" text-anchor="middle" textLength="8.82" lengthAdjust="spacingAndGlyphs">40</text>
<text x="344.06" y="249.35" font-size="8.3" text-anchor="middle" textLength="8.82" lengthAdjust="spacingAndGlyphs">24</text>
<text x="382.82" y="249.35" font-size="8.3" text-anchor="middle" textLength="8.82" lengthAdjust="spacingAndGlyphs">20</text>
<text x="421.58" y="249.35" font-size="8.3" text-anchor="middle" textLength="8.82" lengthAdjust="spacingAndGlyphs">13</text>
<text x="460.34" y="249.35" font-size="8.3" text-anchor="middle" textLength="8.23" lengthAdjust="spacingAndGlyphs">11</text>
<text x="499.10" y="249.35" font-size="8.3" text-anchor="middle" textLength="4.41" lengthAdjust="spacingAndGlyphs">9</text>
<rect x="292.7" y="255.90" width="4" height="4" fill="#a50a2c"/>
<text x="305.30" y="260.80" font-size="8.3" text-anchor="middle" textLength="4.41" lengthAdjust="spacingAndGlyphs">7</text>
<text x="344.06" y="260.80" font-size="8.3" text-anchor="middle" textLength="4.41" lengthAdjust="spacingAndGlyphs">3</text>
<text x="382.82" y="260.80" font-size="8.3" text-anchor="middle" textLength="4.41" lengthAdjust="spacingAndGlyphs">3</text>
<text x="421.58" y="260.80" font-size="8.3" text-anchor="middle" textLength="4.41" lengthAdjust="spacingAndGlyphs">3</text>
<text x="460.34" y="260.80" font-size="8.3" text-anchor="middle" textLength="4.41" lengthAdjust="spacingAndGlyphs">1</text>
<text x="499.10" y="260.80" font-size="8.3" text-anchor="middle" textLength="4.41" lengthAdjust="spacingAndGlyphs">1</text>
<rect x="292.7" y="267.35" width="4" height="4" fill="#63a63b"/>
<text x="305.30" y="272.25" font-size="8.3" text-anchor="middle" textLength="8.82" lengthAdjust="spacingAndGlyphs">87</text>
<text x="344.06" y="272.25" font-size="8.3" text-anchor="middle" textLength="8.82" lengthAdjust="spacingAndGlyphs">15</text>
<text x="382.82" y="272.25" font-size="8.3" text-anchor="middle" textLength="4.41" lengthAdjust="spacingAndGlyphs">9</text>
<text x="421.58" y="272.25" font-size="8.3" text-anchor="middle" textLength="4.41" lengthAdjust="spacingAndGlyphs">7</text>
<text x="460.34" y="272.25" font-size="8.3" text-anchor="middle" textLength="4.41" lengthAdjust="spacingAndGlyphs">6</text>
<text x="499.10" y="272.25" font-size="8.3" text-anchor="middle" textLength="4.41" lengthAdjust="spacingAndGlyphs">4</text>
<text x="28.8" y="516.8" font-size="8" font-style="italic">N</text>
<rect x="29.7" y="524.10" width="4" height="4" fill="#213d73"/>
<text x="43.60" y="529.00" font-size="8.3" text-anchor="middle" textLength="13.22" lengthAdjust="spacingAndGlyphs">107</text>
<text x="82.60" y="529.00" font-size="8.3" text-anchor="middle" textLength="8.82" lengthAdjust="spacingAndGlyphs">87</text>
<text x="121.60" y="529.00" font-size="8.3" text-anchor="middle" textLength="8.82" lengthAdjust="spacingAndGlyphs">72</text>
<text x="160.60" y="529.00" font-size="8.3" text-anchor="middle" textLength="8.82" lengthAdjust="spacingAndGlyphs">54</text>
<text x="199.60" y="529.00" font-size="8.3" text-anchor="middle" textLength="8.82" lengthAdjust="spacingAndGlyphs">40</text>
<text x="238.60" y="529.00" font-size="8.3" text-anchor="middle" textLength="8.82" lengthAdjust="spacingAndGlyphs">28</text>
<rect x="29.7" y="535.70" width="4" height="4" fill="#dc8c18"/>
<text x="43.60" y="540.60" font-size="8.3" text-anchor="middle" textLength="13.22" lengthAdjust="spacingAndGlyphs">218</text>
<text x="82.60" y="540.60" font-size="8.3" text-anchor="middle" textLength="13.22" lengthAdjust="spacingAndGlyphs">157</text>
<text x="121.60" y="540.60" font-size="8.3" text-anchor="middle" textLength="13.22" lengthAdjust="spacingAndGlyphs">124</text>
<text x="160.60" y="540.60" font-size="8.3" text-anchor="middle" textLength="8.82" lengthAdjust="spacingAndGlyphs">91</text>
<text x="199.60" y="540.60" font-size="8.3" text-anchor="middle" textLength="8.82" lengthAdjust="spacingAndGlyphs">72</text>
<text x="238.60" y="540.60" font-size="8.3" text-anchor="middle" textLength="8.82" lengthAdjust="spacingAndGlyphs">50</text>
<rect x="29.7" y="547.20" width="4" height="4" fill="#a50a2c"/>
<text x="43.60" y="552.10" font-size="8.3" text-anchor="middle" textLength="13.22" lengthAdjust="spacingAndGlyphs">250</text>
<text x="82.60" y="552.10" font-size="8.3" text-anchor="middle" textLength="13.22" lengthAdjust="spacingAndGlyphs">125</text>
<text x="121.60" y="552.10" font-size="8.3" text-anchor="middle" textLength="8.82" lengthAdjust="spacingAndGlyphs">97</text>
<text x="160.60" y="552.10" font-size="8.3" text-anchor="middle" textLength="8.82" lengthAdjust="spacingAndGlyphs">80</text>
<text x="199.60" y="552.10" font-size="8.3" text-anchor="middle" textLength="8.82" lengthAdjust="spacingAndGlyphs">55</text>
<text x="238.60" y="552.10" font-size="8.3" text-anchor="middle" textLength="8.82" lengthAdjust="spacingAndGlyphs">31</text>
<text x="286.0" y="518.7" font-size="8" font-style="italic">N</text>
<rect x="286.7" y="525.90" width="4" height="4" fill="#213d73"/>
<text x="300.65" y="530.80" font-size="8.3" text-anchor="middle" textLength="13.22" lengthAdjust="spacingAndGlyphs">107</text>
<text x="339.30" y="530.80" font-size="8.3" text-anchor="middle" textLength="8.82" lengthAdjust="spacingAndGlyphs">90</text>
<text x="377.95" y="530.80" font-size="8.3" text-anchor="middle" textLength="8.82" lengthAdjust="spacingAndGlyphs">76</text>
<text x="416.60" y="530.80" font-size="8.3" text-anchor="middle" textLength="8.82" lengthAdjust="spacingAndGlyphs">58</text>
<text x="455.25" y="530.80" font-size="8.3" text-anchor="middle" textLength="8.82" lengthAdjust="spacingAndGlyphs">44</text>
<text x="493.90" y="530.80" font-size="8.3" text-anchor="middle" textLength="8.82" lengthAdjust="spacingAndGlyphs">32</text>
<rect x="286.7" y="537.50" width="4" height="4" fill="#dc8c18"/>
<text x="300.65" y="542.40" font-size="8.3" text-anchor="middle" textLength="13.22" lengthAdjust="spacingAndGlyphs">218</text>
<text x="339.30" y="542.40" font-size="8.3" text-anchor="middle" textLength="13.22" lengthAdjust="spacingAndGlyphs">168</text>
<text x="377.95" y="542.40" font-size="8.3" text-anchor="middle" textLength="13.22" lengthAdjust="spacingAndGlyphs">132</text>
<text x="416.60" y="542.40" font-size="8.3" text-anchor="middle" textLength="8.82" lengthAdjust="spacingAndGlyphs">96</text>
<text x="455.25" y="542.40" font-size="8.3" text-anchor="middle" textLength="8.82" lengthAdjust="spacingAndGlyphs">76</text>
<text x="493.90" y="542.40" font-size="8.3" text-anchor="middle" textLength="8.82" lengthAdjust="spacingAndGlyphs">53</text>
<rect x="286.7" y="548.90" width="4" height="4" fill="#a50a2c"/>
<text x="300.65" y="553.80" font-size="8.3" text-anchor="middle" textLength="13.22" lengthAdjust="spacingAndGlyphs">250</text>
<text x="339.30" y="553.80" font-size="8.3" text-anchor="middle" textLength="13.22" lengthAdjust="spacingAndGlyphs">141</text>
<text x="377.95" y="553.80" font-size="8.3" text-anchor="middle" textLength="13.22" lengthAdjust="spacingAndGlyphs">108</text>
<text x="416.60" y="553.80" font-size="8.3" text-anchor="middle" textLength="8.82" lengthAdjust="spacingAndGlyphs">87</text>
<text x="455.25" y="553.80" font-size="8.3" text-anchor="middle" textLength="8.82" lengthAdjust="spacingAndGlyphs">60</text>
<text x="493.90" y="553.80" font-size="8.3" text-anchor="middle" textLength="8.82" lengthAdjust="spacingAndGlyphs">38</text>
<rect x="0.7" y="0.6" width="518.6" height="559.8" fill="none" stroke="#000" stroke-width="1.4"/>
</svg></body></html>
